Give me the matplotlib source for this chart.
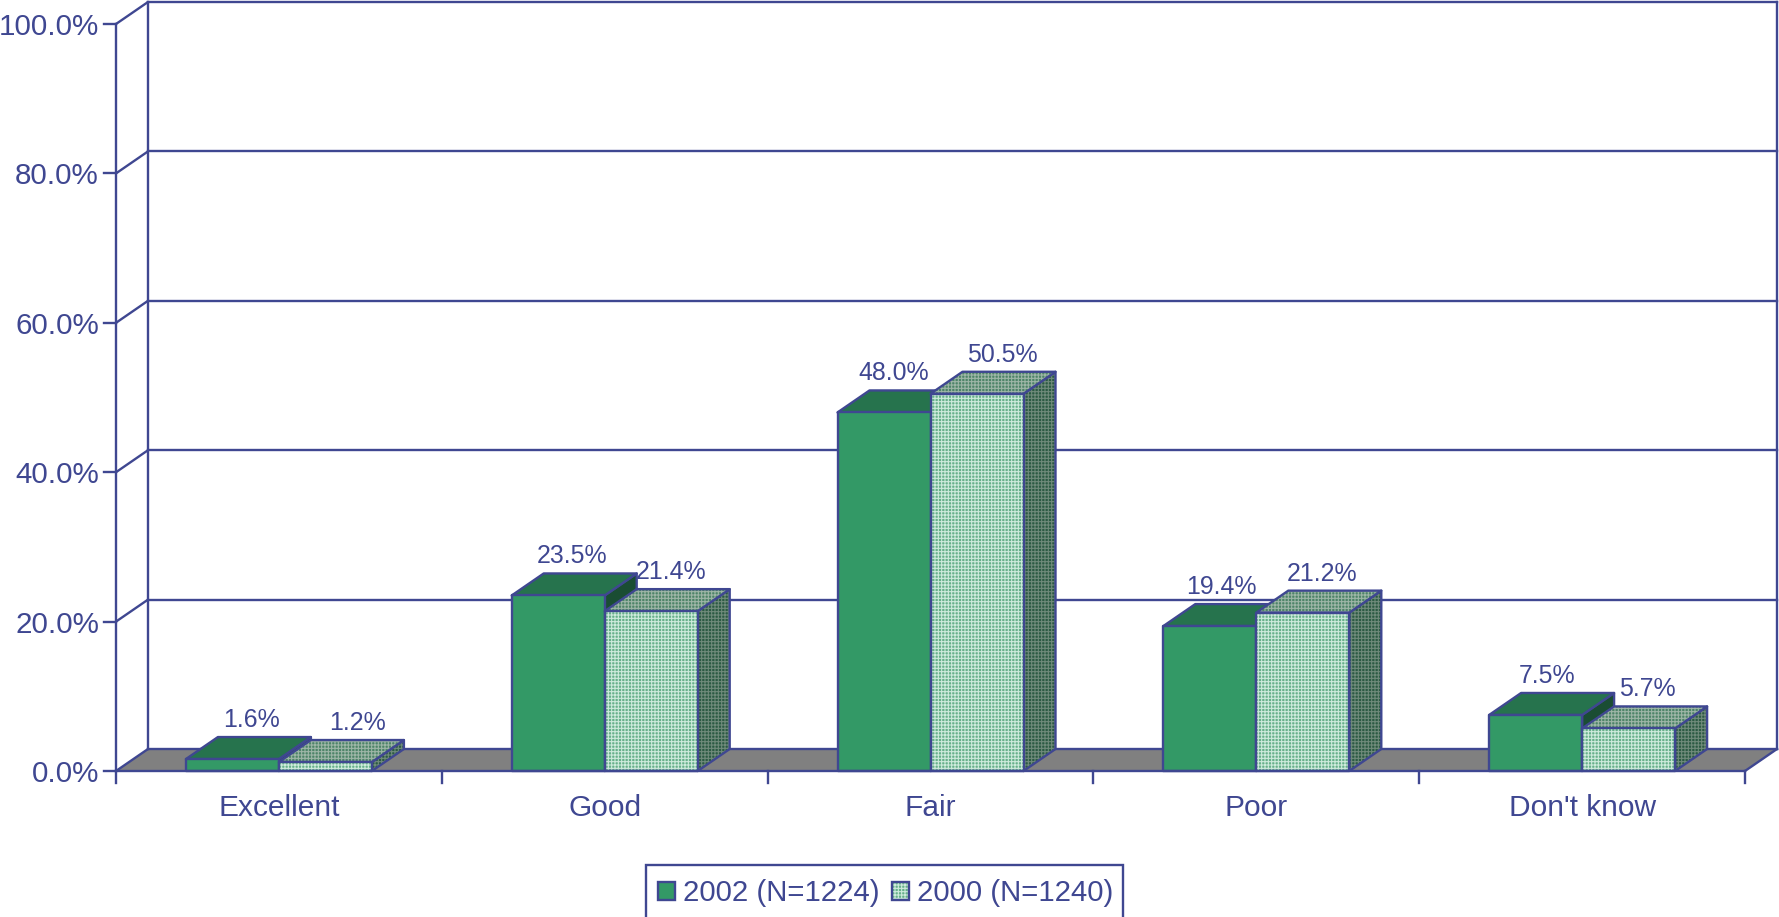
import matplotlib
matplotlib.use("Agg")
import matplotlib.pyplot as plt
from matplotlib.patches import Polygon, Patch, Rectangle
from matplotlib.legend_handler import HandlerTuple

plt.rcParams['font.family'] = ['Liberation Sans', 'DejaVu Sans']
plt.rcParams['hatch.linewidth'] = 0.8

#datos
categorias = ["Excellent", "Good", "Fair", "Poor", "Don't know"]
serie_2002 = [1.6, 23.5, 48.0, 19.4, 7.5]
serie_2000 = [1.2, 21.4, 50.5, 21.2, 5.7]
nombre_2002 = "2002 (N=1224)"
nombre_2000 = "2000 (N=1240)"
ticks_y = [0, 20, 40, 60, 80, 100]

#colores
azul = "#3f4791"
gris = "#808080"

#pixeles de la figura
W, H = 1779, 917
x0_px, ancho_cat_px = 116, 325.8
y0_px, px_por_pct = 771, 7.47
dx = 32 / ancho_cat_px
dy = 22 / px_por_pct
ancho = 93 / ancho_cat_px
n = len(categorias)

fig = plt.figure(figsize=(W / 100, H / 100), dpi=100)
ax = fig.add_axes([0, 0, 1, 1])
ax.set_xlim(-x0_px / ancho_cat_px, (W - x0_px) / ancho_cat_px)
ax.set_ylim(-(H - y0_px) / px_por_pct, y0_px / px_por_pct)
ax.axis("off")

lw = 1.7


def cara(puntos, color, hatch_color=None, z=3):
    if hatch_color is not None:
        ax.add_patch(Polygon(puntos, facecolor=color, edgecolor=hatch_color, hatch="+++++", lw=0, zorder=z))
        ax.add_patch(Polygon(puntos, fill=False, edgecolor=azul, lw=lw, joinstyle="round", zorder=z))
    else:
        ax.add_patch(Polygon(puntos, facecolor=color, edgecolor=azul, lw=lw, joinstyle="round", zorder=z))


def barra(x, h, estilo, z):
    cara([(x + ancho, 0), (x + ancho + dx, dy), (x + ancho + dx, h + dy), (x + ancho, h)], estilo["lado"], estilo["lado_h"], z)
    cara([(x, h), (x + dx, h + dy), (x + ancho + dx, h + dy), (x + ancho, h)], estilo["arriba"], estilo["arriba_h"], z)
    cara([(x, 0), (x + ancho, 0), (x + ancho, h), (x, h)], estilo["frente"], estilo["frente_h"], z)


#pared del fondo y piso
ax.add_patch(Polygon([(0, 0), (dx, dy), (n + dx, dy), (n, 0)], facecolor=gris, edgecolor="none", zorder=1))
for t in ticks_y:
    ax.plot([0, dx], [t, t + dy], color=azul, lw=lw, zorder=2, solid_capstyle="round")
    ax.plot([dx, n + dx], [t + dy, t + dy], color=azul, lw=lw, zorder=2)
    ax.plot([-12 / ancho_cat_px, 0], [t, t], color=azul, lw=lw, zorder=2)
    ax.text(-17 / ancho_cat_px, t, f"{t:.1f}%", color=azul, fontsize=21.3, ha="right", va="center_baseline", zorder=5)
ax.plot([0, 0], [0, 100], color=azul, lw=lw, zorder=2)
ax.plot([dx, dx], [dy, 100 + dy], color=azul, lw=lw, zorder=2)
ax.plot([n + dx, n + dx], [dy, 100 + dy], color=azul, lw=lw, zorder=2)
ax.plot([n, n + dx], [0, dy], color=azul, lw=lw, zorder=2)
ax.plot([0, n], [0, 0], color=azul, lw=lw, zorder=4)
for i in range(n + 1):
    ax.plot([i, i], [0, -12 / px_por_pct], color=azul, lw=lw, zorder=2)

estilo_2002 = {"frente": "#339966", "frente_h": None, "arriba": "#26734d", "arriba_h": None,
               "lado": "#1a4d33", "lado_h": None}
estilo_2000 = {"frente": "#66b08a", "frente_h": "#cdeadb", "arriba": "#4d8468", "arriba_h": "#9db5a6",
               "lado": "#2b5a43", "lado_h": "#6f8a7a"}

#corrimiento de las etiquetas en pixeles
corr_2002 = [19, 14, 10, 12, 11]
corr_2000 = [32, 20, 25, 19, 19]

for i in range(n):
    x1 = i + 0.5 - ancho
    x2 = i + 0.5
    barra(x1, serie_2002[i], estilo_2002, 3 + i * 0.1)
    barra(x2, serie_2000[i], estilo_2000, 3.05 + i * 0.1)
    ax.text(x1 + ancho / 2 + corr_2002[i] / ancho_cat_px, serie_2002[i] + dy + 10 / px_por_pct, f"{serie_2002[i]:.1f}%",
            color=azul, fontsize=17.9, ha="center", va="baseline", zorder=6)
    ax.text(x2 + ancho / 2 + corr_2000[i] / ancho_cat_px, serie_2000[i] + dy + 10 / px_por_pct, f"{serie_2000[i]:.1f}%",
            color=azul, fontsize=17.9, ha="center", va="baseline", zorder=6)
    ax.text(i + 0.5, -34 / px_por_pct, categorias[i], color=azul, fontsize=21.5, ha="center", va="center_baseline")

#leyenda, el marco se sale por abajo de la figura
fig.add_artist(Rectangle((646, H - 940), 1123 - 646, 940 - 865, transform=None, fill=False, edgecolor=azul, lw=lw))
h1 = Patch(facecolor="#339966", edgecolor=azul, lw=lw)
h2 = (Patch(facecolor="#66b08a", edgecolor="#cdeadb", hatch="+++++", lw=0), Patch(fill=False, edgecolor=azul, lw=lw))
ley = fig.legend([h1, h2], [nombre_2002, nombre_2000], ncol=2, loc="upper left", bbox_to_anchor=(646 / W, 1 - 867.5 / H),
                 fontsize=21.2, labelcolor=azul, frameon=False,
                 handlelength=0.6, handleheight=0.6, handletextpad=0.27, columnspacing=0.4,
                 borderpad=0.4, borderaxespad=0, handler_map={tuple: HandlerTuple(ndivide=1, pad=0)})

fig.savefig("out.png", dpi=100)
